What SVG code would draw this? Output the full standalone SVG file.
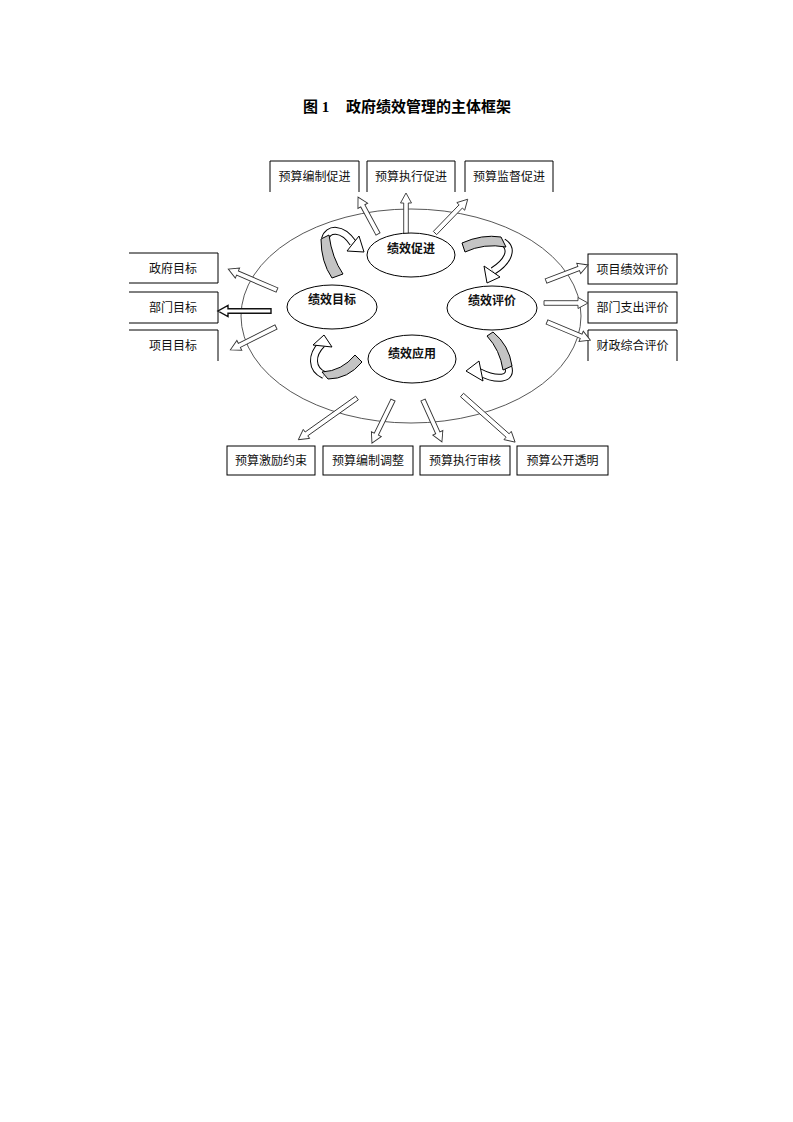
<svg xmlns="http://www.w3.org/2000/svg" width="793" height="1122" viewBox="0 0 793 1122">
<style>
.t{font-family:"Noto Sans CJK SC","Liberation Sans",sans-serif;font-size:12px;fill:#111;text-anchor:middle}
.b{font-weight:bold}
.title{font-family:"Liberation Serif","Noto Sans CJK SC",serif;font-size:15px;font-weight:bold;fill:#000}
.box{fill:none;stroke:#000;stroke-width:1}
.ell{fill:#fff;stroke:#000;stroke-width:1}
.arr{fill:#fff;stroke:#333;stroke-width:0.9;stroke-linejoin:miter}
.ro{fill:none;stroke:#000;stroke-width:8}
.rw{fill:none;stroke:#fff;stroke-width:6}
.gb{fill:#c4c4c4;stroke:#000;stroke-width:1;stroke-linejoin:round}
.hd{fill:#fff;stroke:#000;stroke-width:1}
</style>
<rect width="793" height="1122" fill="#fff"/>
<text class="title" x="303" y="112">图 1<tspan x="346">政府绩效管理的主体框架</tspan></text>

<g id="frame">
<ellipse cx="411" cy="316" rx="170" ry="107" fill="none" stroke="#444" stroke-width="0.9"/>
</g>

<g id="top-boxes">
<g id="box-t1"><path class="box" d="M270 192V161H359V192"/><text class="t" x="314.5" y="181">预算编制促进</text></g>
<g id="box-t2"><path class="box" d="M367 192V161H455V192"/><text class="t" x="411" y="181">预算执行促进</text></g>
<g id="box-t3"><path class="box" d="M465 192V161H553V192"/><text class="t" x="509" y="181">预算监督促进</text></g>
</g>
<g id="left-boxes">
<g id="box-l1"><path class="box" d="M129 253H218V283H129"/><text class="t" x="173" y="273">政府目标</text></g>
<g id="box-l2"><path class="box" d="M129 292H218V323H129"/><text class="t" x="173" y="312">部门目标</text></g>
<g id="box-l3"><path class="box" d="M129 330H218V361"/><text class="t" x="173" y="350">项目目标</text></g>
</g>
<g id="right-boxes">
<g id="box-r1"><rect class="box" x="588" y="254" width="89" height="30"/><text class="t" x="632.5" y="274">项目绩效评价</text></g>
<g id="box-r2"><rect class="box" x="588" y="292" width="89" height="31"/><text class="t" x="632.5" y="312">部门支出评价</text></g>
<g id="box-r3"><path class="box" d="M588 361V330H677V361"/><text class="t" x="632.5" y="350">财政综合评价</text></g>
</g>
<g id="bottom-boxes">
<g id="box-b1"><rect class="box" x="227" y="446" width="88" height="29"/><text class="t" x="271" y="465">预算激励约束</text></g>
<g id="box-b2"><rect class="box" x="323" y="446" width="90" height="29"/><text class="t" x="368" y="465">预算编制调整</text></g>
<g id="box-b3"><rect class="box" x="420" y="446" width="90" height="29"/><text class="t" x="465" y="465">预算执行审核</text></g>
<g id="box-b4"><rect class="box" x="517" y="446" width="91" height="29"/><text class="t" x="562.5" y="465">预算公开透明</text></g>
</g>

<g id="connectors">
<polygon class="arr" transform="translate(378,234) rotate(-118.4)" points="0,-2.3 32,-2.3 32,-5.5 42,0 32,5.5 32,2.3 0,2.3"/>
<polygon class="arr" transform="translate(406,234) rotate(-90)" points="0,-2.3 31,-2.3 31,-5.5 41,0 31,5.5 31,2.3 0,2.3"/>
<polygon class="arr" transform="translate(435,233) rotate(-45.9)" points="0,-2.3 37,-2.3 37,-5.5 47,0 37,5.5 37,2.3 0,2.3"/>
<polygon class="arr" transform="translate(277,290) rotate(-156.8)" points="0,-2.3 43,-2.3 43,-5.5 53,0 43,5.5 43,2.3 0,2.3"/>
<polygon class="arr" transform="translate(271,311) rotate(180)" points="0,-2.3 43,-2.3 43,-5.5 53,0 43,5.5 43,2.3 0,2.3" style="stroke-width:1.4;stroke:#111"/>
<polygon class="arr" transform="translate(276,327) rotate(153.4)" points="0,-2.3 41,-2.3 41,-5.5 51,0 41,5.5 41,2.3 0,2.3"/>
<polygon class="arr" transform="translate(546,281) rotate(-20.9)" points="0,-2.3 35,-2.3 35,-5.5 45,0 35,5.5 35,2.3 0,2.3"/>
<polygon class="arr" transform="translate(544,303)" points="0,-2.3 34,-2.3 34,-5.5 44,0 34,5.5 34,2.3 0,2.3"/>
<polygon class="arr" transform="translate(547,322) rotate(22.7)" points="0,-2.3 37,-2.3 37,-5.5 47,0 37,5.5 37,2.3 0,2.3"/>
<polygon class="arr" transform="translate(357,398) rotate(144.6)" points="0,-2.3 62,-2.3 62,-5.5 72,0 62,5.5 62,2.3 0,2.3"/>
<polygon class="arr" transform="translate(393,400) rotate(116)" points="0,-2.3 38,-2.3 38,-5.5 48,0 38,5.5 38,2.3 0,2.3"/>
<polygon class="arr" transform="translate(423,400) rotate(65.7)" points="0,-2.3 36,-2.3 36,-5.5 46,0 36,5.5 36,2.3 0,2.3"/>
<polygon class="arr" transform="translate(462,395) rotate(41.6)" points="0,-2.3 61,-2.3 61,-5.5 71,0 61,5.5 61,2.3 0,2.3"/>

<g id="cycle-tl">
<path class="ro" d="M325 239C328 228 342 227 353 243"/>
<path class="rw" d="M325 239C328 228 342 227 353 243"/>
<path class="gb" d="M321 239Q321 262 332 278L343 274Q332 258 329 235Z"/>
<polygon class="hd" points="347,251 364,252 359,236"/>
</g>
<g id="cycle-tr">
<path class="ro" d="M503 242C515 250 506 263 493 271"/>
<path class="rw" d="M503 242C515 250 506 263 493 271"/>
<path class="gb" d="M462 243Q482 234 501 237L506 247Q484 243 465 252Z"/>
<polygon class="hd" points="484,266 487,283 500,277"/>
</g>
<g id="cycle-br">
<path class="ro" d="M508 366C513 380 497 381 479 372"/>
<path class="rw" d="M508 366C513 380 497 381 479 372"/>
<path class="gb" d="M493 332Q509 345 512 366L503 370Q500 350 487 336Z"/>
<polygon class="hd" points="479,361 466,371 483,381"/>
</g>
<g id="cycle-bl">
<path class="ro" d="M324 375C311 369 311 355 322 344"/>
<path class="rw" d="M324 375C311 369 311 355 322 344"/>
<path class="gb" d="M362 362Q348 379 328 379L322 372Q342 371 355 355Z"/>
<polygon class="hd" points="313,345 324,335 332,347"/>
</g>
</g>

<g id="node-promote"><ellipse class="ell" cx="411" cy="255" rx="44" ry="22"/><text class="t b" x="411" y="253">绩效促进</text></g>
<g id="node-goal"><ellipse class="ell" cx="332" cy="307" rx="45" ry="22"/><text class="t b" x="332" y="304">绩效目标</text></g>
<g id="node-eval"><ellipse class="ell" cx="492" cy="308" rx="45" ry="22"/><text class="t b" x="492" y="305">绩效评价</text></g>
<g id="node-apply"><ellipse class="ell" cx="412" cy="359" rx="44" ry="24"/><text class="t b" x="412" y="358">绩效应用</text></g>
</svg>
